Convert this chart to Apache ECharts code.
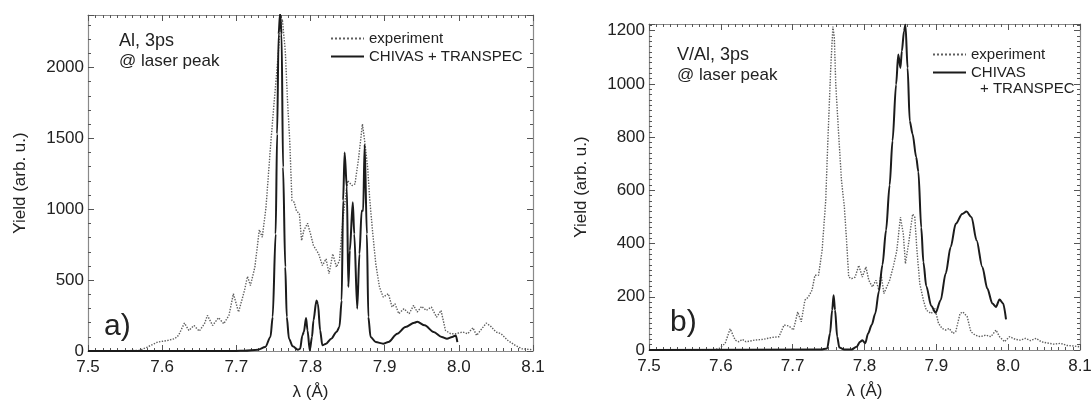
<!DOCTYPE html>
<html>
<head>
<meta charset="utf-8">
<title>Al and V/Al spectra, 3ps</title>
<script src="https://cdn.jsdelivr.net/npm/echarts/dist/echarts.min.js"></script>
<style>
  html, body { margin: 0; padding: 0; background: #fff; }
  #chart { width: 1091px; height: 403px; }
</style>
</head>
<body>
<div id="chart"></div>
<script>
// wavelength ticks (Å)
const lambdaTicks = [7.5, 7.6, 7.7, 7.8, 7.9, 8.0, 8.1];

// panel a) Al, 3ps – experiment (dotted) [λ, yield]
const aExperiment = [
  [7.500, 0], [7.550, 2], [7.570, 5], [7.580, 28], [7.594, 63], [7.608, 75], [7.617, 87],
  [7.622, 110], [7.630, 197], [7.636, 145], [7.643, 180], [7.650, 140], [7.657, 192],
  [7.661, 251], [7.668, 180], [7.676, 235], [7.683, 192], [7.690, 251], [7.696, 404],
  [7.703, 275], [7.711, 427], [7.715, 526], [7.719, 462], [7.725, 592], [7.731, 855],
  [7.735, 803], [7.740, 1014], [7.746, 1437], [7.750, 1695], [7.755, 2000], [7.759, 2258],
  [7.762, 2340], [7.766, 2117], [7.769, 1765], [7.772, 1484], [7.775, 1061], [7.778, 1049],
  [7.781, 990], [7.785, 967], [7.788, 779], [7.791, 850], [7.796, 901], [7.800, 826],
  [7.804, 744], [7.811, 685], [7.816, 603], [7.821, 650], [7.825, 545], [7.830, 685],
  [7.835, 592], [7.839, 638], [7.844, 944], [7.850, 1202], [7.856, 1167], [7.860, 1178],
  [7.865, 1366], [7.870, 1601], [7.873, 1484], [7.877, 1296], [7.880, 1061], [7.884, 826],
  [7.888, 615], [7.893, 451], [7.898, 380], [7.905, 404], [7.910, 310], [7.914, 333],
  [7.919, 263], [7.926, 298], [7.933, 263], [7.939, 322], [7.944, 275], [7.950, 315],
  [7.956, 286], [7.963, 310], [7.970, 239], [7.976, 286], [7.982, 145], [7.989, 122],
  [7.996, 122], [8.005, 134], [8.012, 122], [8.019, 164], [8.024, 110], [8.031, 157],
  [8.037, 197], [8.043, 174], [8.050, 134], [8.057, 122], [8.066, 75], [8.076, 40],
  [8.085, 16], [8.099, 9]
];

// panel a) CHIVAS + TRANSPEC (solid)
const aSimulation = [
  [7.500, 0], [7.700, 0], [7.711, 2], [7.729, 9], [7.739, 28], [7.746, 99], [7.749, 240],
  [7.753, 826], [7.755, 1530], [7.757, 2235], [7.759, 2380], [7.761, 2235], [7.763, 1296],
  [7.766, 592], [7.768, 240], [7.771, 87], [7.776, 33], [7.783, 9], [7.786, 16], [7.789, 110],
  [7.791, 134], [7.794, 232], [7.796, 145], [7.799, 5], [7.802, 99], [7.804, 216],
  [7.808, 357], [7.810, 333], [7.813, 145], [7.816, 40], [7.821, 52], [7.828, 87],
  [7.835, 134], [7.839, 169], [7.842, 357], [7.844, 1061], [7.846, 1401], [7.849, 1155],
  [7.851, 451], [7.853, 709], [7.857, 1049], [7.859, 826], [7.863, 298], [7.866, 685],
  [7.869, 990], [7.871, 990], [7.873, 1455], [7.876, 826], [7.878, 240], [7.881, 99],
  [7.888, 63], [7.898, 52], [7.905, 63], [7.917, 122], [7.928, 169], [7.940, 200],
  [7.944, 206], [7.954, 181], [7.966, 134], [7.977, 99], [7.984, 87], [7.991, 99],
  [7.996, 110], [7.998, 63]
];

// panel b) V/Al, 3ps – experiment (dotted)
const bExperiment = [
  [7.500, 0], [7.589, 0], [7.598, 6], [7.606, 25], [7.613, 80], [7.620, 37], [7.625, 31],
  [7.630, 40], [7.635, 31], [7.647, 37], [7.659, 40], [7.671, 47], [7.681, 50], [7.688, 94],
  [7.695, 90], [7.701, 75], [7.707, 143], [7.712, 106], [7.717, 187], [7.722, 200],
  [7.727, 225], [7.731, 281], [7.736, 281], [7.741, 374], [7.746, 561], [7.749, 786],
  [7.753, 1060], [7.756, 1215], [7.758, 1173], [7.760, 998], [7.764, 811], [7.768, 636],
  [7.772, 536], [7.775, 412], [7.778, 274], [7.782, 268], [7.787, 274], [7.792, 318],
  [7.797, 274], [7.802, 312], [7.806, 262], [7.811, 237], [7.816, 262], [7.820, 225],
  [7.823, 287], [7.827, 212], [7.831, 237], [7.835, 262], [7.840, 312], [7.845, 374],
  [7.850, 499], [7.854, 437], [7.857, 324], [7.862, 412], [7.867, 511], [7.870, 499],
  [7.873, 374], [7.877, 249], [7.882, 187], [7.886, 150], [7.893, 137], [7.898, 156],
  [7.903, 100], [7.908, 81], [7.913, 75], [7.918, 81], [7.923, 62], [7.927, 69],
  [7.933, 137], [7.937, 143], [7.943, 125], [7.948, 69], [7.954, 56], [7.961, 50],
  [7.969, 56], [7.976, 50], [7.983, 75], [7.988, 50], [7.995, 31], [8.002, 50],
  [8.010, 40], [8.017, 37], [8.024, 44], [8.031, 35], [8.039, 44], [8.046, 31],
  [8.053, 27], [8.063, 22], [8.073, 25], [8.082, 17], [8.092, 15], [8.099, 12]
];

// panel b) CHIVAS + TRANSPEC (solid)
const bSimulation = [
  [7.500, 0], [7.739, 2], [7.748, 6], [7.752, 62], [7.755, 150], [7.757, 206], [7.759, 150],
  [7.762, 50], [7.765, 9], [7.772, 2], [7.782, 2], [7.789, 12], [7.794, 31], [7.797, 37],
  [7.801, 25], [7.805, 62], [7.810, 94], [7.815, 137], [7.820, 220], [7.825, 320],
  [7.830, 450], [7.835, 620], [7.839, 786], [7.844, 998], [7.847, 1110], [7.850, 1060],
  [7.852, 1123], [7.855, 1198], [7.857, 1222], [7.860, 1060], [7.863, 860], [7.867, 811],
  [7.872, 724], [7.875, 670], [7.879, 460], [7.882, 330], [7.886, 240], [7.893, 165],
  [7.899, 140], [7.906, 187], [7.913, 287], [7.920, 387], [7.927, 474], [7.936, 511],
  [7.942, 520], [7.949, 499], [7.956, 412], [7.964, 312], [7.971, 231], [7.978, 175],
  [7.983, 162], [7.988, 190], [7.993, 175], [7.997, 115]
];

const fontFamily = '"Liberation Sans", Arial, sans-serif';
const frameColor = '#8a8a8a';
const tickColor = '#555';
const textColor = '#222';

let chartInstance = echarts.init(document.getElementById('chart'), null, { renderer: 'canvas' });

function xAxisFor(gridIndex, bottom) {
  return {
    type: 'value',
    gridIndex: gridIndex,
    position: bottom ? 'bottom' : 'top',
    min: lambdaTicks[0],
    max: lambdaTicks[lambdaTicks.length - 1],
    interval: 0.1,
    axisLine: { show: true, onZero: false, lineStyle: { color: frameColor, width: 1.2 } },
    axisTick: { show: true, inside: true, length: 6, lineStyle: { color: tickColor } },
    minorTick: { show: true, splitNumber: 10, length: 3, lineStyle: { color: tickColor } },
    splitLine: { show: false },
    axisLabel: {
      show: bottom,
      margin: 8,
      color: textColor,
      fontSize: 17,
      fontFamily: fontFamily,
      formatter: (v) => v.toFixed(1)
    },
    name: bottom ? 'λ (Å)' : '',
    nameLocation: 'middle',
    nameGap: 33,
    nameTextStyle: { color: textColor, fontSize: 17, fontFamily: fontFamily }
  };
}

function yAxisFor(gridIndex, left, max, interval, minorSplit) {
  return {
    type: 'value',
    gridIndex: gridIndex,
    position: left ? 'left' : 'right',
    min: 0,
    max: max,
    interval: interval,
    axisLine: { show: true, onZero: false, lineStyle: { color: frameColor, width: 1.2 } },
    axisTick: { show: true, inside: true, length: 6, lineStyle: { color: tickColor } },
    minorTick: { show: true, splitNumber: minorSplit, length: 3, lineStyle: { color: tickColor } },
    splitLine: { show: false },
    axisLabel: {
      show: left,
      showMaxLabel: false,
      margin: 4,
      color: textColor,
      fontSize: 17,
      fontFamily: fontFamily,
      formatter: (v) => String(v)
    },
    name: left ? 'Yield (arb. u.)' : '',
    nameLocation: 'middle',
    nameGap: 59,
    nameTextStyle: { color: textColor, fontSize: 17, fontFamily: fontFamily }
  };
}

const expStyle = { color: '#5e5e5e', width: 1.4, type: 'dotted' };
const simStyle = { color: '#1b1b1b', width: 2 };

function lineSeries(name, data, axisIndex, style, smooth) {
  return {
    name: name,
    type: 'line',
    xAxisIndex: axisIndex,
    yAxisIndex: axisIndex,
    data: data,
    symbol: 'none',
    showSymbol: false,
    smooth: smooth,
    smoothMonotone: 'x',
    clip: true,
    lineStyle: style,
    itemStyle: { color: style.color },
    emphasis: { disabled: true }
  };
}

function textLabel(text, x, y, size) {
  return {
    type: 'text',
    x: x,
    y: y,
    silent: true,
    style: {
      text: text,
      fill: textColor,
      font: size + 'px ' + fontFamily,
      verticalAlign: 'middle'
    }
  };
}

// legend: line sample only, no marker circle
function legendFor(left, top, formatter) {
  return {
    left: left,
    top: top,
    orient: 'vertical',
    itemWidth: 33,
    itemHeight: 14,
    itemGap: 3,
    selectedMode: false,
    data: ['experiment', 'CHIVAS + TRANSPEC'],
    formatter: formatter,
    itemStyle: { color: 'transparent', borderColor: 'transparent', borderWidth: 0, opacity: 0 },
    textStyle: { color: textColor, fontSize: 15, fontFamily: fontFamily }
  };
}

const option = {
  animation: false,
  backgroundColor: '#fff',
  grid: [
    { left: 88, top: 15, width: 445, height: 336, outerBoundsMode: 'none', containLabel: false },
    { left: 649, top: 24, width: 431, height: 326, outerBoundsMode: 'none', containLabel: false }
  ],
  xAxis: [xAxisFor(0, true), xAxisFor(1, true), xAxisFor(0, false), xAxisFor(1, false)],
  yAxis: [
    yAxisFor(0, true, 2370, 500, 5),
    yAxisFor(1, true, 1225, 200, 10),
    yAxisFor(0, false, 2370, 500, 5),
    yAxisFor(1, false, 1225, 200, 10)
  ],
  legend: [
    legendFor(325, 26, (name) => name),
    legendFor(927, 42, (name) => (name === 'CHIVAS + TRANSPEC' ? 'CHIVAS' : name))
  ],
  graphic: [
    textLabel('Al, 3ps', 119, 41, 18),
    textLabel('@ laser peak', 119, 61, 17),
    textLabel('a)', 104, 327, 30),
    textLabel('V/Al, 3ps', 677, 55, 18),
    textLabel('@ laser peak', 677, 75, 17),
    textLabel('b)', 670, 323, 30),
    textLabel('+ TRANSPEC', 980, 89, 15)
  ],
  series: [
    lineSeries('experiment', aExperiment, 0, expStyle, false),
    lineSeries('CHIVAS + TRANSPEC', aSimulation, 0, simStyle, 0.3),
    lineSeries('experiment', bExperiment, 1, expStyle, false),
    lineSeries('CHIVAS + TRANSPEC', bSimulation, 1, simStyle, 0.3)
  ]
};

chartInstance.setOption(option);
</script>
</body>
</html>
